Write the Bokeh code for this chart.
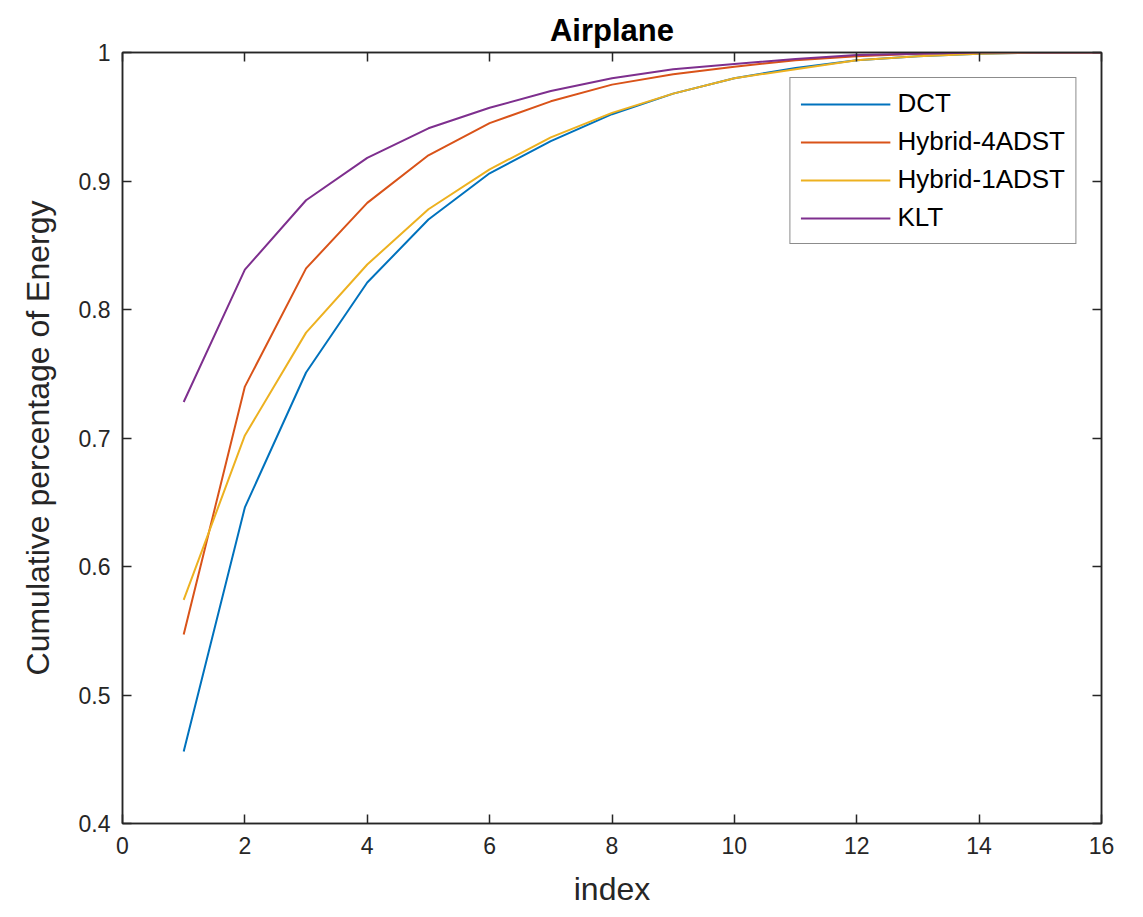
from bokeh.plotting import figure
from bokeh.models import LinearAxis, FixedTicker, Legend, LegendItem, Range1d
from bokeh.embed import file_html
from bokeh.resources import INLINE

# Cumulative share of energy captured by the first N coefficients
index = list(range(1, 17))
dct = [0.456, 0.646, 0.751, 0.821, 0.870, 0.906, 0.931, 0.952,
       0.968, 0.980, 0.988, 0.994, 0.997, 0.999, 1.000, 1.000]
hybrid_4adst = [0.547, 0.740, 0.832, 0.883, 0.920, 0.945, 0.962, 0.975,
                0.983, 0.989, 0.994, 0.997, 0.999, 1.000, 1.000, 1.000]
hybrid_1adst = [0.574, 0.702, 0.782, 0.835, 0.878, 0.909, 0.934, 0.953,
                0.968, 0.980, 0.987, 0.994, 0.997, 0.999, 1.000, 1.000]
klt = [0.728, 0.831, 0.885, 0.918, 0.941, 0.957, 0.970, 0.980,
       0.987, 0.991, 0.995, 0.998, 0.999, 1.000, 1.000, 1.000]

series_names = ["DCT", "Hybrid-4ADST", "Hybrid-1ADST", "KLT"]
series_values = [dct, hybrid_4adst, hybrid_1adst, klt]
series_colors = ["#0072BD", "#D95319", "#EDB120", "#7E2F8E"]

x_ticks = [0, 2, 4, 6, 8, 10, 12, 14, 16]
y_ticks = [0.4, 0.5, 0.6, 0.7, 0.8, 0.9, 1.0]

FONT = "Liberation Sans"
INK = "#262626"

p = figure(width=1143, height=917, output_backend="svg", toolbar_location=None,
           x_range=Range1d(0, 16), y_range=Range1d(0.4, 1.0),
           x_axis_location=None, y_axis_location=None,
           min_border_left=122, min_border_right=42,
           min_border_top=52, min_border_bottom=94,
           background_fill_color="white", border_fill_color="white")

p.title.text = "Airplane"
p.title.align = "center"
p.title.text_font = FONT
p.title.text_font_size = "31px"
p.title.text_font_style = "bold"
p.title.text_color = "black"
p.title.standoff = 10

p.xgrid.visible = False
p.ygrid.visible = False
p.outline_line_color = INK
p.outline_line_width = 1.5


def style_axis(ax, labelled):
    ax.major_tick_in = 9
    ax.major_tick_out = 0
    ax.minor_tick_line_color = None
    ax.axis_line_color = INK
    ax.axis_line_width = 1.5
    ax.major_tick_line_color = INK
    ax.major_tick_line_width = 1.5
    ax.major_label_text_font = FONT
    ax.major_label_text_font_size = "23px"
    ax.major_label_text_color = INK if labelled else None
    ax.axis_label_text_font = FONT
    ax.axis_label_text_font_size = "32px"
    ax.axis_label_text_font_style = "normal"
    ax.axis_label_text_color = INK


xb = LinearAxis(ticker=FixedTicker(ticks=x_ticks), axis_label="index")
style_axis(xb, True)
xb.major_label_standoff = 13
xb.axis_label_standoff = 14
p.add_layout(xb, "below")

yl = LinearAxis(ticker=FixedTicker(ticks=y_ticks), axis_label="Cumulative percentage of Energy")
style_axis(yl, True)
yl.major_label_standoff = 12
yl.axis_label_standoff = 20
yl.major_label_overrides = {1.0: "1"}
p.add_layout(yl, "left")

xt = LinearAxis(ticker=FixedTicker(ticks=x_ticks))
style_axis(xt, False)
xt.major_label_standoff = 0
p.add_layout(xt, "above")

yr = LinearAxis(ticker=FixedTicker(ticks=y_ticks))
style_axis(yr, False)
yr.major_label_standoff = 0
p.add_layout(yr, "right")

items = []
for name, vals, col in zip(series_names, series_values, series_colors):
    r = p.line(index, vals, line_color=col, line_width=2)
    items.append(LegendItem(label=name, renderers=[r]))

legend = Legend(items=items, location="top_right", margin=25,
                border_line_color="#1a1a1a", border_line_width=1.5,
                background_fill_color="white", background_fill_alpha=1.0,
                label_text_font=FONT, label_text_font_size="26px",
                label_text_color="black",
                glyph_width=90, glyph_height=30, label_height=30,
                label_standoff=7, padding=10, spacing=7)
p.add_layout(legend, "center")

open("out.html", "w").write(file_html(p, INLINE))
